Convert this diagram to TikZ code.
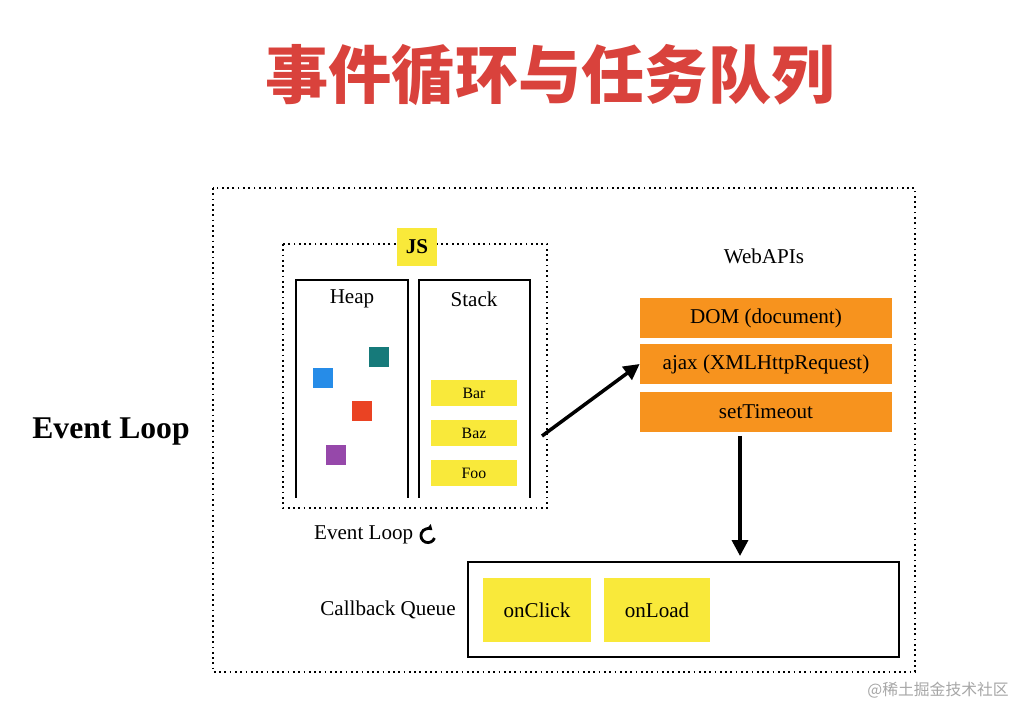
\documentclass[tikz,border=0pt]{standalone}
\usepackage{amssymb}
\usepackage{fontspec}
\setmainfont{Liberation Serif}
\newfontfamily\cjk{Noto Sans CJK SC}
\usetikzlibrary{arrows.meta}
\definecolor{titlered}{HTML}{D9423C}
\definecolor{jsyellow}{HTML}{F9E93A}
\definecolor{apiorange}{HTML}{F7931E}
\begin{document}
\begin{tikzpicture}[x=0.02cm,y=-0.02cm,
  dotbox/.style={draw, line width=1pt, dotted},
  plain/.style={draw, line width=0.8pt},
  ybox/.style={fill=jsyellow, draw=none, font=\small},
  obox/.style={fill=apiorange, draw=none, font=\large},
  sq/.style={draw=none, minimum size=0.4cm, inner sep=0pt},
  arr/.style={-{Triangle[length=9pt,width=9pt]}, line width=2pt}
]
\useasboundingbox (0,0) rectangle (1035,719);
\node[font=\cjk\bfseries\fontsize{36}{40}\selectfont, text=titlered] (title) at (550,75) {事件循环与任务队列};
\draw[dotbox] (213,188) rectangle (915,672);
\node[font=\bfseries\fontsize{18}{22}\selectfont] (el) at (111,432) {Event Loop};
% JS runtime
\draw[dotbox] (283,244) rectangle (547,508);
\draw[plain] (296,498) -- (296,280) -- (408,280) -- (408,498);
\draw[plain] (419,498) -- (419,280) -- (530,280) -- (530,498);
\node[ybox, minimum width=0.8cm, minimum height=0.76cm, font=\bfseries\large] (js) at (417,247) {JS};
\node[font=\large] (heap) at (352,299) {Heap};
\node[font=\large] (stack) at (474,299) {Stack};
\node[sq, fill={rgb,255:red,38;green,140;blue,232}] (s1) at (323,378) {};
\node[sq, fill={rgb,255:red,22;green,122;blue,122}] (s2) at (379,357) {};
\node[sq, fill={rgb,255:red,234;green,67;blue,35}] (s3) at (362,411) {};
\node[sq, fill={rgb,255:red,150;green,72;blue,170}] (s4) at (336,455) {};
\node[ybox, minimum width=1.72cm, minimum height=0.52cm] (bar) at (474,393) {Bar};
\node[ybox, minimum width=1.72cm, minimum height=0.52cm] (baz) at (474,433) {Baz};
\node[ybox, minimum width=1.72cm, minimum height=0.52cm] (foo) at (474,473) {Foo};
\coordinate (jsout) at (542,436);
% Web APIs
\node[font=\large] (web) at (764,256) {WebAPIs};
\node[obox, minimum width=5.04cm, minimum height=0.8cm] (dom) at (766,318) {DOM (document)};
\node[obox, minimum width=5.04cm, minimum height=0.8cm] (ajax) at (766,364) {ajax (XMLHttpRequest)};
\node[obox, minimum width=5.04cm, minimum height=0.8cm] (st) at (766,412) {setTimeout};
\draw[arr] (jsout) -- (ajax.west);
\coordinate (down) at (740,436);
\coordinate (qtop) at (740,556);
\draw[arr] (down) -- (qtop);
% event loop label
\node[font=\large, anchor=west] (ell) at (308,535) {Event Loop};
\coordinate (loopc) at (428,536);
\draw[line width=1.6pt, -{Triangle[length=3pt,width=4pt]}] ([shift={(0.13cm,-0.04cm)}]loopc) arc[start angle=-20, end angle=-310, radius=0.14cm];
% callback queue
\draw[plain] (468,562) rectangle (899,657);
\node[font=\large] (cq) at (388,610) {Callback Queue};
\node[ybox, font=\large, minimum width=2.16cm, minimum height=1.28cm] (click) at (537,610) {onClick};
\node[ybox, font=\large, minimum width=2.14cm, minimum height=1.28cm] (load) at (657,610) {onLoad};
% watermark
\node[font=\cjk\small, text=black!35, anchor=east] (wm) at (1015,690) {@稀土掘金技术社区};
\end{tikzpicture}
\end{document}
